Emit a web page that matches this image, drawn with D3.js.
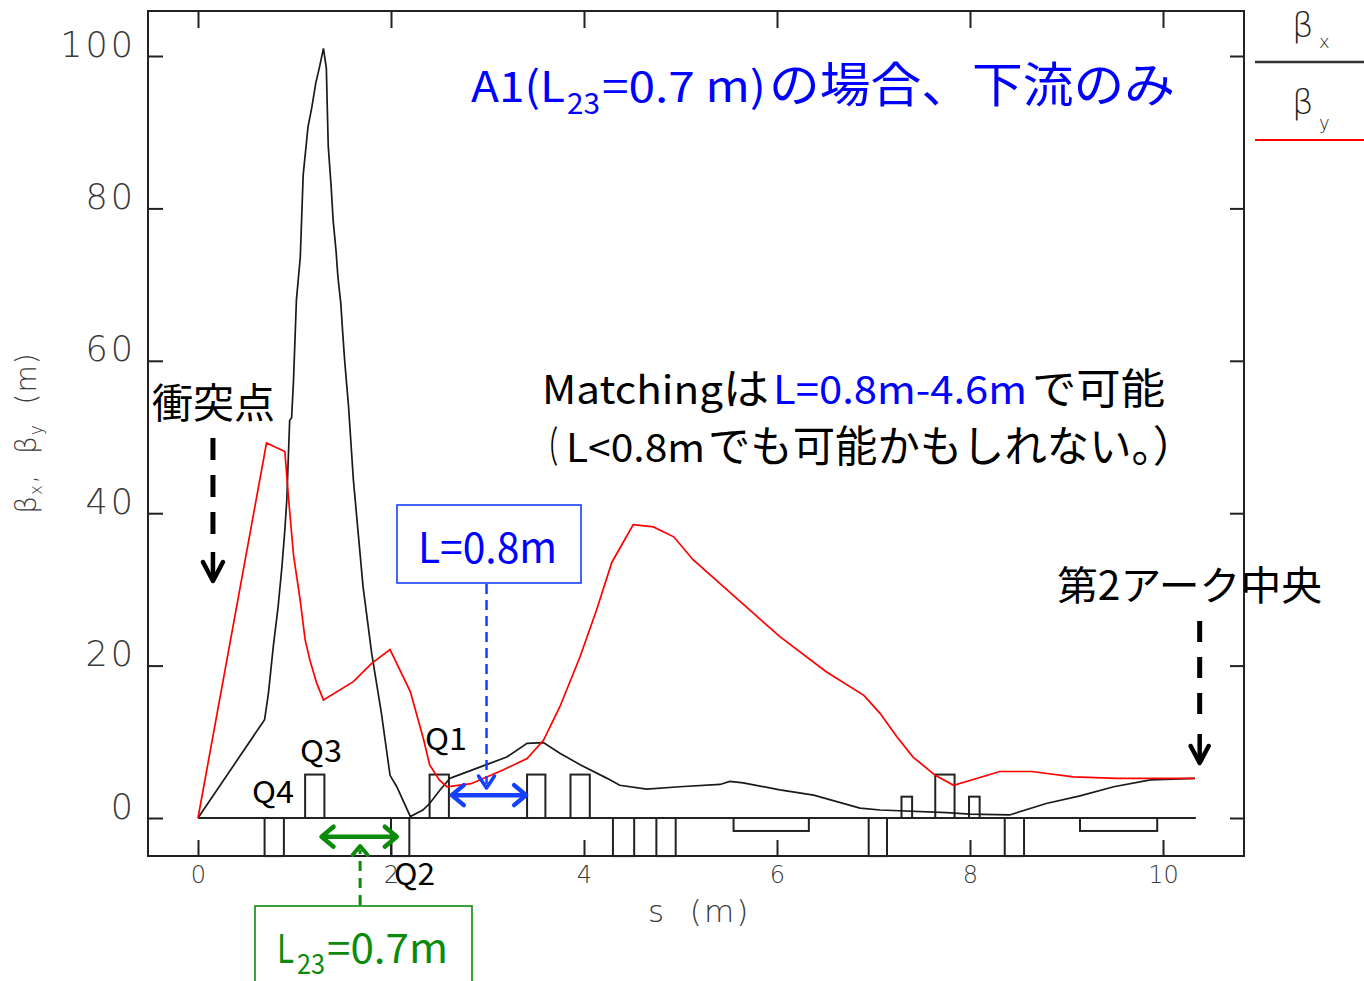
<!DOCTYPE html>
<html>
<head>
<meta charset="utf-8">
<script src="https://cdn.jsdelivr.net/npm/d3@7"></script>
<style>
  body { margin: 0; background: #fff; }
  svg { display: block; }
</style>
</head>
<body>
<svg id="chart" width="1364" height="981"></svg>
<script>
// Beta functions along the beam line s (m)
const sX = [0,0.69,0.73,0.78,0.83,0.87,0.90,0.92,0.95,0.97,0.99,1.02,1.06,1.09,1.14,1.18,1.22,1.26,1.30,1.33,1.34,1.35,1.38,1.40,1.43,1.45,1.48,1.50,1.52,1.54,1.56,1.61,1.71,1.80,1.90,1.99,2.06,2.20,2.33,2.40,2.51,2.61,2.65,2.99,3.20,3.41,3.58,3.75,3.96,4.24,4.37,4.65,4.99,5.41,5.51,5.65,6.03,6.38,6.86,7.07,7.76,8.00,8.41,8.79,9.14,9.49,9.87,10.33];
const betaX = [0,12.9,16.4,22.5,27.7,33.0,37.8,41.7,52.2,52.5,57.5,68,73.6,84.4,90.7,93.3,96.4,98.6,101,98.4,93.1,88.1,82.8,78.5,74.5,71,67.5,63.6,60,57,54,44.4,30.4,21.6,13.8,5.6,4.1,0.2,1.05,1.9,3.7,5.2,5.4,7.0,8.0,9.8,9.9,8.5,7.0,5.2,4.3,3.8,4.1,4.4,4.8,4.6,3.7,3.0,1.3,1.05,0.7,0.5,0.4,1.9,2.9,4.1,5.0,5.2];

const sY = [0,0.71,0.90,0.94,0.99,1.06,1.11,1.16,1.23,1.30,1.61,1.80,1.99,2.20,2.34,2.40,2.50,2.58,2.83,3.16,3.41,3.58,3.75,3.96,4.13,4.29,4.38,4.51,4.72,4.93,5.13,5.62,6.03,6.51,6.90,7.07,7.24,7.41,7.64,7.83,8.31,8.64,9.07,9.52,10.33];
const betaY = [0,49.2,48.1,41.7,34.5,28.5,23.4,20.7,17.7,15.5,17.9,20.3,22.1,16.6,10.2,7.0,5.0,4.1,4.5,6.3,7.8,10.2,14.6,21.2,27.3,33.6,35.6,38.5,38.2,36.9,33.9,28.4,23.8,19.2,16.1,13.7,10.7,8.0,5.6,4.3,6.1,6.1,5.4,5.2,5.2];

// Lattice elements: start, end and drawn height (above = focusing, below = defocusing / bends)
const magStart  = [0.69,1.11,2.00,2.40,3.41,3.86,4.30,4.75,5.55,6.95,7.29,7.64,7.99,8.36,9.14];
const magEnd    = [0.89,1.31,2.19,2.60,3.60,4.06,4.52,4.95,6.33,7.14,7.40,7.84,8.10,8.56,9.94];
const magHeight = [-5,5.7,-5,5.7,5.7,5.7,-5,-5,-1.7,-5,2.8,5.7,2.8,-5,-1.7];
const latticeEnd = 10.34;

const xTicks = [0, 2, 4, 6, 8, 10];
const yTicks = [0, 20, 40, 60, 80, 100];

const svg = d3.select("#chart");

const frame = { left: 148, top: 11, right: 1244, bottom: 856 };
const x = d3.scaleLinear().domain([0, 10]).range([198, 1163]);
const y = d3.scaleLinear().domain([0, 100]).range([818, 56]);

const JP = "'Noto Sans CJK JP', 'Noto Sans', sans-serif";
const AX = "'DejaVu Sans', sans-serif";
const BLUE = "#0000ff";
const ABLUE = "#1440ff";
const GREEN = "#0b8a0b";

// ---- axes (ticks point inward) ----
const axL = svg.append("g").attr("transform", `translate(${frame.left},0)`)
  .call(d3.axisLeft(y).tickValues(yTicks).tickSizeInner(-15).tickSizeOuter(0).tickPadding(12));
axL.selectAll("text").attr("dy", "0").attr("font-family", AX).attr("font-weight", 200)
  .attr("font-size", 35).attr("letter-spacing", 3).attr("fill", "#3a3a3a");

const axR = svg.append("g").attr("transform", `translate(${frame.right},0)`)
  .call(d3.axisRight(y).tickValues(yTicks).tickSizeInner(-14).tickSizeOuter(0).tickFormat(""));

const axB = svg.append("g").attr("transform", `translate(0,${frame.bottom})`)
  .call(d3.axisBottom(x).tickValues(xTicks).tickSizeInner(-16).tickSizeOuter(0).tickPadding(10));
axB.selectAll("text").attr("font-family", AX).attr("font-weight", 200)
  .attr("font-size", 24).attr("fill", "#3a3a3a");

const axT = svg.append("g").attr("transform", `translate(0,${frame.top})`)
  .call(d3.axisTop(x).tickValues(xTicks).tickSizeInner(-17).tickSizeOuter(0).tickFormat(""));

[axL, axR, axB, axT].forEach(g => {
  g.select(".domain").remove();
  g.selectAll("line").attr("stroke", "#222").attr("stroke-width", 2);
});

svg.append("rect")
  .attr("x", frame.left).attr("y", frame.top)
  .attr("width", frame.right - frame.left).attr("height", frame.bottom - frame.top)
  .attr("fill", "none").attr("stroke", "#222").attr("stroke-width", 2);

// axis titles
svg.append("text")
  .attr("x", 648).attr("y", 922)
  .attr("font-family", AX).attr("font-weight", 200).attr("font-size", 31)
  .attr("letter-spacing", 2)
  .attr("fill", "#3a3a3a").attr("xml:space", "preserve")
  .text("s  (m)");

const yl = svg.append("text")
  .attr("transform", "translate(36,433) rotate(-90)")
  .attr("text-anchor", "middle")
  .attr("font-family", AX).attr("font-weight", 200).attr("font-size", 28)
  .attr("letter-spacing", 1)
  .attr("fill", "#3a3a3a").attr("xml:space", "preserve");
yl.append("tspan").text("β");
yl.append("tspan").attr("font-size", 17).attr("dy", 6).text("x");
yl.append("tspan").attr("dy", -6).text(",  β");
yl.append("tspan").attr("font-size", 17).attr("dy", 6).text("y");
yl.append("tspan").attr("dy", -6).text("  (m)");

// ---- lattice ----
const lat = svg.append("g").attr("fill", "none").attr("stroke", "#222").attr("stroke-width", 2);
lat.append("line")
  .attr("x1", x(0)).attr("x2", x(latticeEnd))
  .attr("y1", y(0)).attr("y2", y(0));
lat.selectAll("rect.mag").data(d3.range(magStart.length)).join("rect")
  .attr("class", "mag")
  .attr("x", i => x(magStart[i]))
  .attr("width", i => x(magEnd[i]) - x(magStart[i]))
  .attr("y", i => y(Math.max(0, magHeight[i])))
  .attr("height", i => Math.abs(y(magHeight[i]) - y(0)));

// ---- beta curves ----
const line = d3.line().x(d => x(d[0])).y(d => y(d[1]));
svg.append("path")
  .attr("d", line(sX.map((s, i) => [s, betaX[i]])))
  .attr("fill", "none").attr("stroke", "#1a1a1a").attr("stroke-width", 1.7);
svg.append("path")
  .attr("d", line(sY.map((s, i) => [s, betaY[i]])))
  .attr("fill", "none").attr("stroke", "#ff0000").attr("stroke-width", 1.7);

// ---- legend ----
const leg = svg.append("g");
leg.append("text").attr("x", 1292).attr("y", 37).attr("font-family", AX).attr("font-weight", 200)
  .attr("font-size", 34).attr("fill", "#222").text("β");
leg.append("text").attr("x", 1319).attr("y", 48).attr("font-family", AX).attr("font-weight", 200)
  .attr("font-size", 18).attr("fill", "#222").text("x");
leg.append("line").attr("x1", 1255).attr("x2", 1364).attr("y1", 62).attr("y2", 62)
  .attr("stroke", "#333").attr("stroke-width", 2.5);
leg.append("text").attr("x", 1292).attr("y", 114).attr("font-family", AX).attr("font-weight", 200)
  .attr("font-size", 34).attr("fill", "#222").text("β");
leg.append("text").attr("x", 1319).attr("y", 129).attr("font-family", AX).attr("font-weight", 200)
  .attr("font-size", 18).attr("fill", "#222").text("y");
leg.append("line").attr("x1", 1255).attr("x2", 1364).attr("y1", 140).attr("y2", 140)
  .attr("stroke", "#ff0000").attr("stroke-width", 2);

// ---- annotation text ----
function seg(px, py, str, size, color, len) {
  const t = svg.append("text")
    .attr("x", px).attr("y", py)
    .attr("font-family", JP).attr("font-size", size).attr("fill", color)
    .text(str);
  if (len) t.attr("textLength", len).attr("lengthAdjust", "spacingAndGlyphs");
  return t;
}

// title
seg(471, 102, "A1(L", 42, BLUE, 94);
seg(567, 114, "23", 29, BLUE, 33);
seg(602, 102, "=0.7 m)", 42, BLUE, 164);
seg(769, 102, "の場合、下流のみ", 48, BLUE, 406);

// matching remarks
seg(542, 404, "Matching", 39, "#000", 181);
seg(723, 404, "は", 42, "#000", 46);
seg(773, 404, "L=0.8m-4.6m", 39, BLUE, 254);
seg(1032, 404, "で可能", 42, "#000", 133);
const note2 = svg.append("text").attr("y", 462)
  .attr("font-family", JP).attr("fill", "#000");
note2.append("tspan").attr("x", 536).attr("font-size", 42)
  .attr("textLength", 22).attr("lengthAdjust", "spacingAndGlyphs").text("（");
note2.append("tspan").attr("x", 566).attr("font-size", 39)
  .attr("textLength", 139).attr("lengthAdjust", "spacingAndGlyphs").text("L<0.8m");
note2.append("tspan").attr("x", 708).attr("font-size", 43)
  .attr("textLength", 487).attr("lengthAdjust", "spacingAndGlyphs").text("でも可能かもしれない。）");

// location labels
seg(152, 418, "衝突点", 41, "#000", 123);
seg(1057, 600, "第2アーク中央", 40, "#000", 265);

// quadrupole labels
seg(252, 803, "Q4", 30, "#000", 42);
seg(300, 762, "Q3", 30, "#000", 42);
seg(425, 750, "Q1", 30, "#000", 42);
seg(394, 885, "Q2", 30, "#000", 41);

// ---- arrows ----
function chevron(tipX, tipY, dx, dy, color, w) {
  svg.append("path")
    .attr("d", `M${tipX - dx},${tipY - dy}L${tipX},${tipY}L${tipX + dx},${tipY - dy}`)
    .attr("fill", "none").attr("stroke", color).attr("stroke-width", w)
    .attr("stroke-linecap", "round").attr("stroke-linejoin", "round");
}
function hChevron(tipX, tipY, dx, dy, color, w) {
  svg.append("path")
    .attr("d", `M${tipX + dx},${tipY - dy}L${tipX},${tipY}L${tipX + dx},${tipY + dy}`)
    .attr("fill", "none").attr("stroke", color).attr("stroke-width", w)
    .attr("stroke-linecap", "round").attr("stroke-linejoin", "round");
}

// collision point arrow
const ipX = x(0.155);
svg.append("line").attr("x1", ipX).attr("x2", ipX).attr("y1", 438).attr("y2", 548)
  .attr("stroke", "#000").attr("stroke-width", 5).attr("stroke-dasharray", "22,15");
svg.append("line").attr("x1", ipX).attr("x2", ipX).attr("y1", 552).attr("y2", 580)
  .attr("stroke", "#000").attr("stroke-width", 4.5);
chevron(ipX, 581, 10, 19, "#000", 4.5);

// arc centre arrow
const acX = x(10.38);
svg.append("line").attr("x1", acX).attr("x2", acX).attr("y1", 621).attr("y2", 720)
  .attr("stroke", "#000").attr("stroke-width", 5).attr("stroke-dasharray", "21,15");
svg.append("line").attr("x1", acX).attr("x2", acX).attr("y1", 734).attr("y2", 762)
  .attr("stroke", "#000").attr("stroke-width", 4.5);
chevron(acX, 763, 9, 17, "#000", 4.5);

// L = 0.8 m drift (Q1 exit to next quadrupole)
svg.append("rect").attr("x", 397).attr("y", 505).attr("width", 184).attr("height", 78)
  .attr("fill", "#fff").attr("stroke", ABLUE).attr("stroke-width", 1.6);
seg(418, 563, "L=0.8m", 42, BLUE, 139);
const lx = x(2.99);
svg.append("line").attr("x1", lx).attr("x2", lx).attr("y1", 584).attr("y2", 784)
  .attr("stroke", ABLUE).attr("stroke-width", 2.5).attr("stroke-dasharray", "10,6");
chevron(lx, 788, 8, 12, ABLUE, 3.5);
const dY = y(3.0);
svg.append("line").attr("x1", x(2.63)).attr("x2", x(3.40)).attr("y1", dY).attr("y2", dY)
  .attr("stroke", ABLUE).attr("stroke-width", 4.5);
hChevron(x(2.63), dY, 12, 10, ABLUE, 4.5);
hChevron(x(3.40), dY, -12, 10, ABLUE, 4.5);

// L23 = 0.7 m (Q3 to Q2)
const gY = y(-2.45);
svg.append("line").attr("x1", x(1.28)).attr("x2", x(2.06)).attr("y1", gY).attr("y2", gY)
  .attr("stroke", GREEN).attr("stroke-width", 4.5);
hChevron(x(1.28), gY, 12, 10, GREEN, 4.5);
hChevron(x(2.06), gY, -12, 10, GREEN, 4.5);
const gx = x(1.68);
svg.append("line").attr("x1", gx).attr("x2", gx).attr("y1", 905).attr("y2", 850)
  .attr("stroke", GREEN).attr("stroke-width", 3).attr("stroke-dasharray", "10,7");
chevron(gx, 846, 7.5, -9, GREEN, 4);
svg.append("rect").attr("x", 255).attr("y", 906).attr("width", 217).attr("height", 90)
  .attr("fill", "#fff").attr("stroke", GREEN).attr("stroke-width", 1.6);
seg(277, 963, "L", 40, GREEN, 17);
seg(297, 974, "23", 28, GREEN, 28);
seg(327, 963, "=0.7m", 40, GREEN, 121);
</script>
</body>
</html>
